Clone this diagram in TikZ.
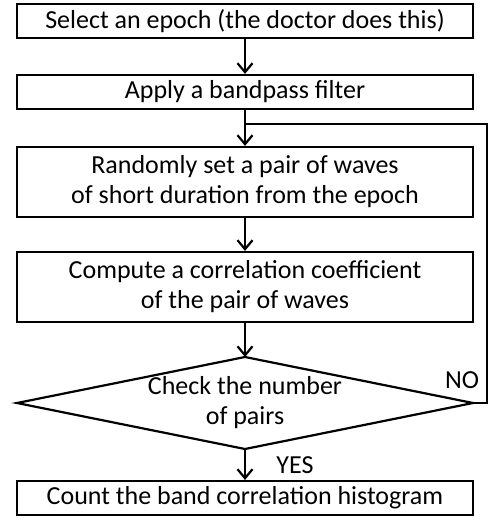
\documentclass[tikz,border=0pt]{standalone}
\usepackage{fontspec}
\setmainfont{Carlito}
\usetikzlibrary{arrows.meta}
\begin{document}
\begin{tikzpicture}[x=1pt,y=-1pt,line width=2.2pt,
  box/.style={draw,line width=2.2pt,minimum width=456pt,align=center,
    font=\fontsize{26}{30}\selectfont,inner sep=0pt},
  lbl/.style={font=\fontsize{26}{30}\selectfont,inner sep=0pt,align=center},
  arr/.style={-{Straight Barb[length=9pt,width=15pt]}}]
\useasboundingbox (0,0) rectangle (490,524);
\node[box,minimum height=34pt] (s1) at (245,21) {Select an epoch (the doctor does this)};
\node[box,minimum height=34pt] (s2) at (245,92) {Apply a bandpass filter};
\node[box,minimum height=70pt] (s3) at (245,182) {Randomly set a pair of waves\\of short duration from the epoch};
\node[box,minimum height=70pt] (s4) at (245,287) {Compute a correlation coefficient\\of the pair of waves};
\coordinate (dt) at (245,357);
\coordinate (dr) at (473,403);
\coordinate (db) at (245,449);
\coordinate (dl) at (17,403);
\draw[line join=miter] (dt) -- (dr) -- (db) -- (dl) -- cycle;
\node[lbl] (d) at (245,403) {Check the number\\of pairs};
\node[box,minimum height=34pt] (s5) at (245,498) {Count the band correlation histogram};
\coordinate (j) at (245,124);
\coordinate (r) at (487,403);
\node[lbl] (no) at (462,380) {NO};
\node[lbl] (yes) at (295,465) {YES};
\draw[arr] (s1) -- (s2);
\draw[arr] (s2) -- (s3);
\draw[arr] (s3) -- (s4);
\draw[arr] (s4) -- (dt);
\draw[arr] (db) -- (s5);
\draw (dr) -- (r) |- (j);
\end{tikzpicture}
\end{document}
